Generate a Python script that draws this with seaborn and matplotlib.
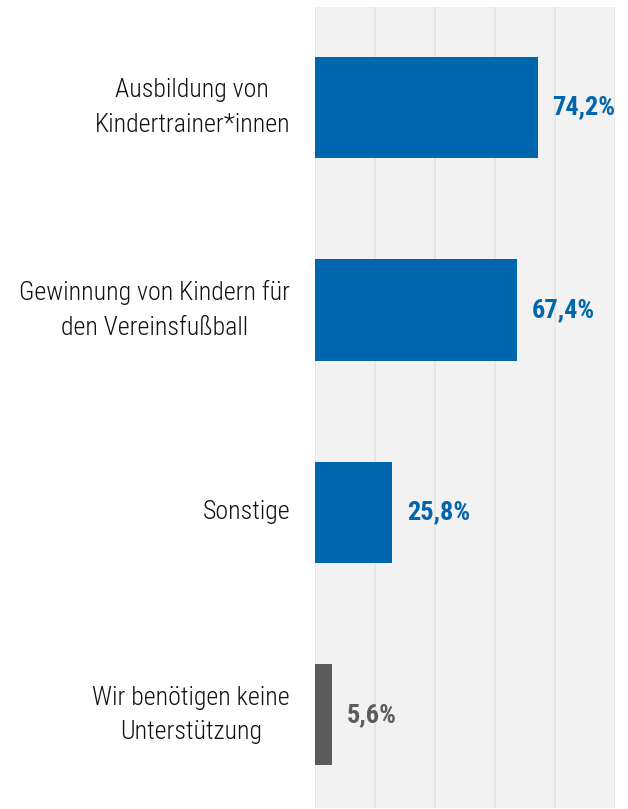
import matplotlib
matplotlib.use("Agg")
import matplotlib.pyplot as plt
import seaborn as sns
import pandas as pd

categories = [
    "Ausbildung von\nKindertrainer*innen",
    "Gewinnung von Kindern für\nden Vereinsfußball",
    "Sonstige",
    "Wir benötigen keine\nUnterstützung",
]
values = [74.2, 67.4, 25.8, 5.6]
value_labels = ["74,2%", "67,4%", "25,8%", "5,6%"]
bar_colors = ["#0066ad", "#0066ad", "#0066ad", "#5b5b5b"]

sns.set_theme(style="white")
plt.rcParams["font.family"] = ["Roboto Condensed", "DejaVu Sans"]

df = pd.DataFrame({"cat": categories, "val": values})

fig = plt.figure(figsize=(6.28, 8.09), dpi=100)
ax = fig.add_axes([315 / 628, 1 / 809, 300 / 628, 801 / 809])
ax.set_facecolor("#f2f2f2")

sns.barplot(data=df, x="val", y="cat", hue="cat", palette=bar_colors,
            legend=False, width=0.5, saturation=1, linewidth=0,
            ax=ax, zorder=3)

ax.set_xlim(0, 100)
ax.set_ylim(3.46, -0.496)
ax.set_xticks([0, 20, 40, 60, 80, 100])
ax.grid(axis="x", color="#e3e3e3", linewidth=1.2, zorder=0)
ax.grid(axis="y", visible=False)
ax.set_axisbelow(True)
ax.tick_params(axis="x", length=0, labelbottom=False)
ax.tick_params(axis="y", length=0, labelleft=False)
ax.set_xlabel("")
ax.set_ylabel("")
for s in ax.spines.values():
    s.set_visible(False)

for i, (cat, v, lab, c) in enumerate(zip(categories, values, value_labels, bar_colors)):
    ax.annotate(lab, xy=(v, i), xytext=(15, 0), textcoords="offset pixels",
                ha="left", va="center", fontsize=19, fontweight="bold", color=c)
    ax.annotate(cat, xy=(0, i), xytext=(-25, 0), textcoords="offset pixels",
                ha="right", va="center", multialignment="center",
                fontsize=18.6, fontweight="light", color="#111111", linespacing=1.55,
                annotation_clip=False)

fig.savefig("out.png", dpi=100)
